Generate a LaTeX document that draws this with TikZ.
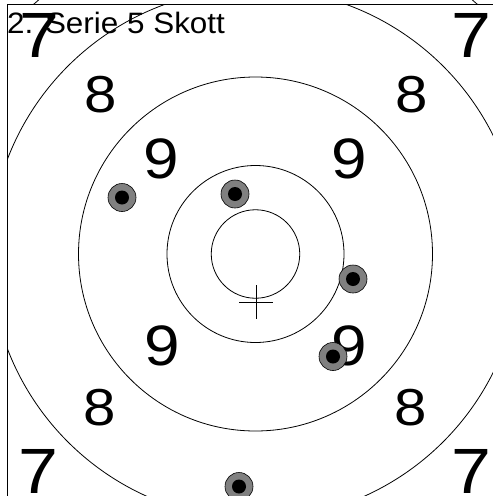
\documentclass[tikz,border=0pt]{standalone}
\usepackage{fontspec}
\setmainfont{Liberation Sans}
\begin{document}
\begin{tikzpicture}[x=1pt,y=-1pt,
  ring/.style={draw=black,line width=0.8pt},
  frameline/.style={draw=black,line width=1.3pt},
  digit/.style={inner sep=0pt,anchor=center,xscale=1.12},
  seven/.style={digit,font=\fontsize{64}{64}\selectfont},
  eight/.style={digit,font=\fontsize{52}{52}\selectfont},
  nine/.style={digit,font=\fontsize{57}{57}\selectfont},
  shotout/.style={circle,draw=black,line width=0.6pt,fill=black!50,minimum size=28pt,inner sep=0pt},
  shotin/.style={circle,fill=black,minimum size=14pt,inner sep=0pt},
  crossline/.style={draw=black,line width=0.9pt}]
\useasboundingbox (0,0) rectangle (493,496);
\coordinate (c) at (255.5,254);
% rings inside the frame
\begin{scope}
  \clip (7.3,4.7) rectangle (493,496);
  \draw[ring] (c) circle[radius=44.25];
  \draw[ring] (c) circle[radius=88.5];
  \draw[ring] (c) circle[radius=177];
  \draw[ring] (c) circle[radius=265.5];
\end{scope}
% outer ring visible above the frame
\begin{scope}
  \clip (7.3,0) rectangle (493,4.7);
  \draw[ring] (c) circle[radius=334];
\end{scope}
% frame
\coordinate (ftl) at (7.3,4.7);
\coordinate (ftr) at (493,4.7);
\coordinate (fbl) at (7.3,496);
\draw[frameline] (ftr) -- (ftl) -- (fbl);
% numbers
\node[seven] (s7a) at (39,35.5) {7};
\node[seven] (s7b) at (471.5,35.5) {7};
\node[seven] (s7c) at (38,471) {7};
\node[seven] (s7d) at (471.5,471) {7};
\node[eight] (s8a) at (101,95) {8};
\node[eight] (s8b) at (411.5,95) {8};
\node[eight] (s8c) at (100,408) {8};
\node[eight] (s8d) at (411,408) {8};
\node[nine] (s9a) at (161.7,159) {9};
\node[nine] (s9b) at (349,159) {9};
\node[nine] (s9c) at (162,346) {9};
\node[nine] (s9d) at (349,346) {9};
% title
\node[inner sep=0pt,anchor=base west,xscale=1.065,font=\fontsize{29.5}{29.5}\selectfont] (title) at (7,33) {2. Serie 5 Skott};
% cross
\coordinate (xc) at (256,302);
\coordinate (xt) at (256,285);
\coordinate (xb) at (256,319);
\coordinate (xl) at (239,302);
\coordinate (xr) at (273,302);
\draw[crossline] (xt) -- (xb);
\draw[crossline] (xl) -- (xr);
% shots
\foreach \n/\p in {1/{(122,197.5)},2/{(235,194)},3/{(353,279)},4/{(333,356.5)},5/{(239,486.5)}}{
  \node[shotout] (shot\n) at \p {};
  \node[shotin] (dot\n) at \p {};
}
\end{tikzpicture}
\end{document}
